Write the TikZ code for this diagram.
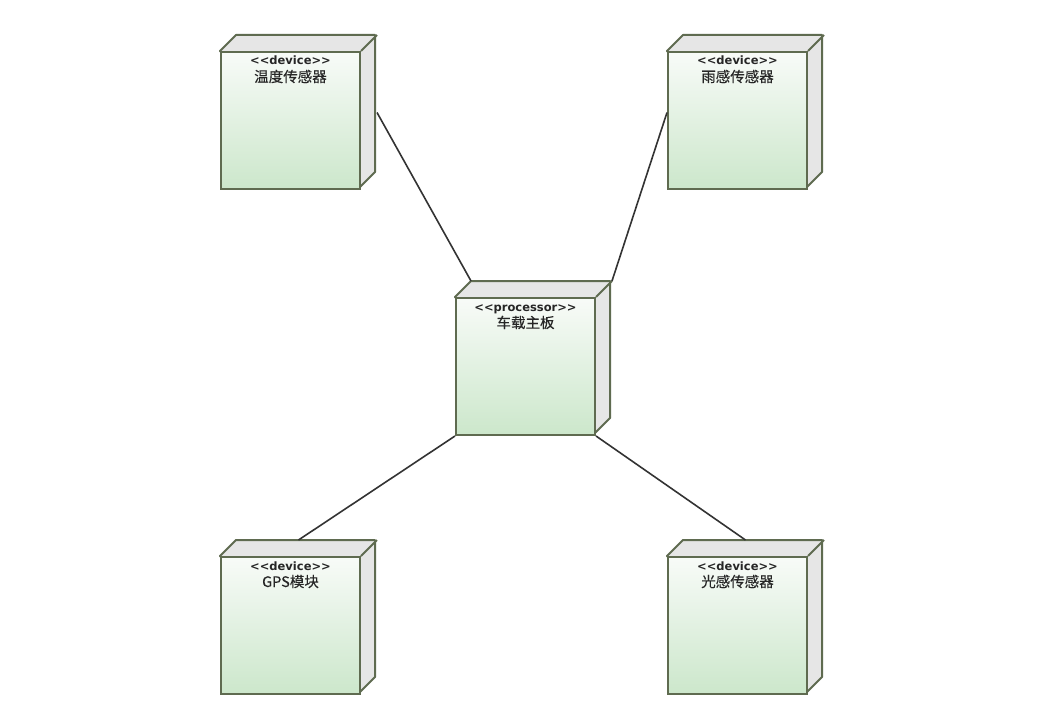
\documentclass[tikz,border=0pt]{standalone}
\usepackage{fontspec}
\setmainfont{DejaVu Sans}
\newfontfamily\cjk{Noto Sans CJK SC}[FakeBold=0.4]
\definecolor{edgeolive}{HTML}{5F6B50}
\definecolor{sidegray}{HTML}{E6E6E6}
\definecolor{greenlow}{HTML}{CCE7CB}
\definecolor{greentop}{HTML}{F8FBF8}
\definecolor{linkgray}{HTML}{333333}
\definecolor{textgray}{HTML}{262626}
\tikzset{
  frontface/.style={draw=edgeolive, line width=2pt, top color=greentop,
    bottom color=greenlow, minimum width=139pt, minimum height=137pt,
    inner sep=0pt, anchor=north west},
  depthface/.style={draw=edgeolive, line width=2pt, fill=sidegray, line join=round},
  link/.style={draw=linkgray, line width=1.6pt},
  stereo/.style={anchor=base, inner sep=0pt, text=textgray, font=\fontsize{11.5pt}{14pt}\selectfont\bfseries},
  title/.style={anchor=base, inner sep=0pt, text=textgray, font=\fontsize{14.5pt}{16pt}\selectfont\cjk},
}
% a 3D box: name, x, y of the front face's top-left corner, stereotype, title
\newcommand\umlnode[5]{%
  \draw[depthface] (#2,#3) -- ++(16,-16) -- ++(139,0) -- ++(0,137) -- ++(-16,16) -- cycle;
  \node[frontface] (#1) at (#2,#3) {};
  \draw[draw=edgeolive, line width=2pt] (#1.north east) -- ++(16,-16);
  \node[stereo] (#1-st) at ([yshift=-14pt]#1.north) {#4};
  \node[title] (#1-nm) at ([yshift=-31pt]#1.north) {#5};
}
\begin{document}
\begin{tikzpicture}[x=1pt,y=-1pt]
  \useasboundingbox[fill=white] (0,0) rectangle (1054,717);
  \umlnode{tl}{220}{51}{<{}<device>{}>}{温度传感器}
  \umlnode{tr}{667}{51}{<{}<device>{}>}{雨感传感器}
  \umlnode{cpu}{455}{297}{<{}<processor>{}>}{车载主板}
  \umlnode{bl}{220}{556}{<{}<device>{}>}{GPS模块}
  \umlnode{br}{667}{556}{<{}<device>{}>}{光感传感器}
  % connectors
  \draw[link] ([shift={(16,-8)}]tl.east) -- ([shift={(16,-16)}]cpu.north west);
  \draw[link] ([shift={(0,-8)}]tr.west) -- ([shift={(16,-16)}]cpu.north east);
  \draw[link] ([shift={(8,-16)}]bl.north) -- (cpu.south west);
  \draw[link] ([shift={(8,-16)}]br.north) -- (cpu.south east);
\end{tikzpicture}
\end{document}
